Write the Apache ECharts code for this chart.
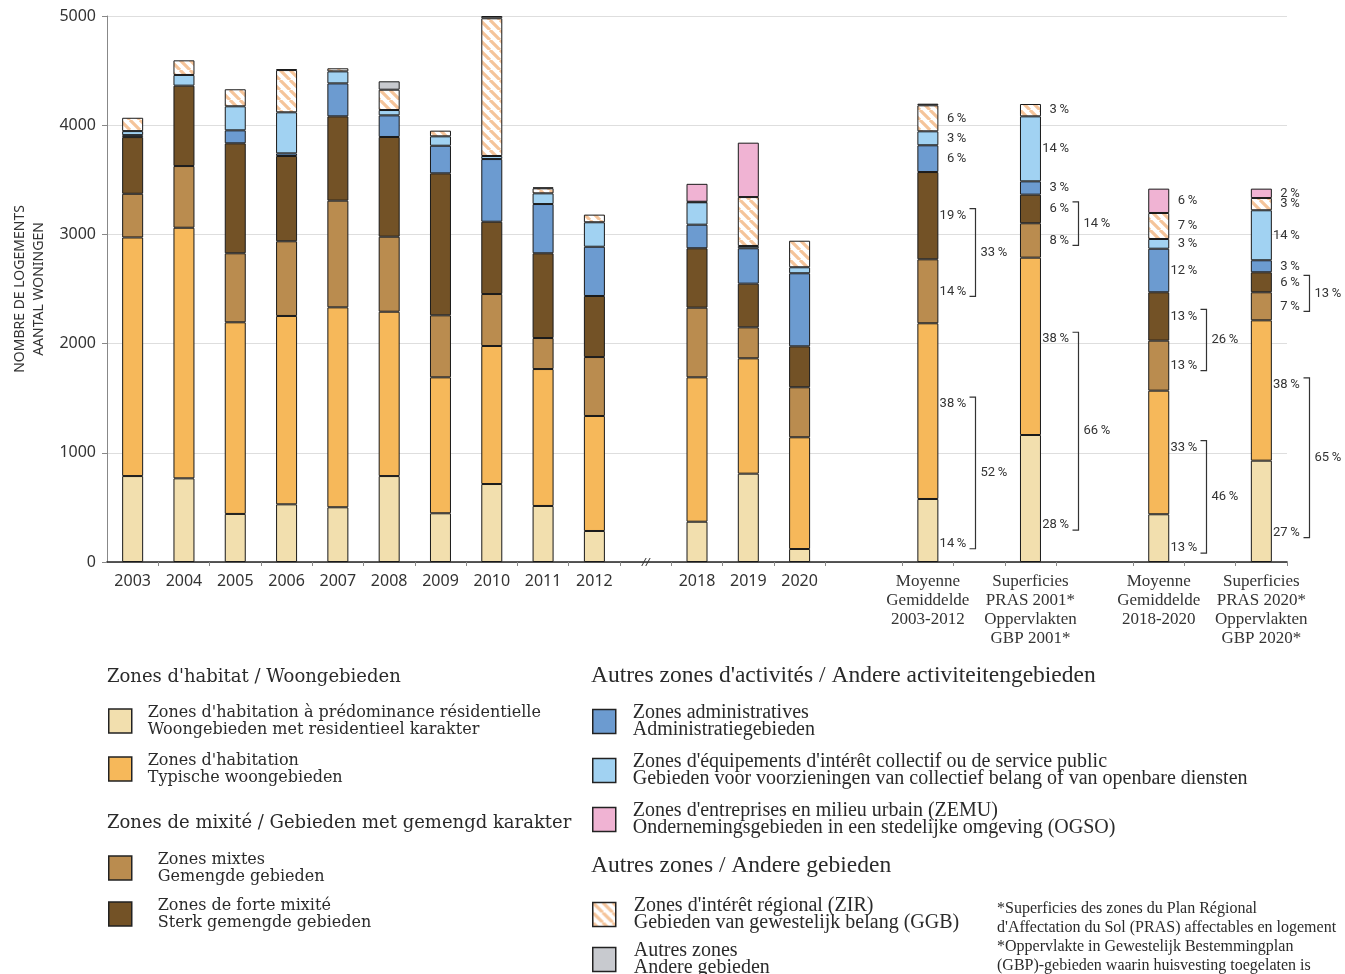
<!DOCTYPE html>
<html><head><meta charset="utf-8">
<script src="https://cdn.jsdelivr.net/npm/echarts@6/dist/echarts.min.js"></script>
<style>html,body{margin:0;padding:0;background:#fff}#chart{width:1345px;height:974px}</style>
</head><body><div id="chart"></div>
<script>
// ---------- DATA ----------
const categories = ['2003','2004','2005','2006','2007','2008','2009','2010','2011','2012','2018','2019','2020',
  'Moyenne\nGemiddelde\n2003-2012','Superficies\nPRAS 2001*\nOppervlakten\nGBP 2001*',
  'Moyenne\nGemiddelde\n2018-2020','Superficies\nPRAS 2020*\nOppervlakten\nGBP 2020*'];
const residentielle = [787, 766, 440, 528, 501, 787, 446, 714, 513, 284, 369, 809, 119, 577, 1163, 437, 928];
const habitation    = [2185, 2295, 1755, 1725, 1831, 1505, 1245, 1264, 1254, 1053, 1322, 1056, 1023, 1609, 1624, 1132, 1285];
const mixtes        = [400, 565, 632, 684, 977, 687, 568, 476, 284, 540, 638, 284, 458, 586, 315, 458, 257];
const forteMixite   = [519, 736, 1007, 781, 772, 913, 1300, 662, 776, 559, 544, 400, 375, 799, 262, 443, 183];
const administratives = [18, 0, 119, 24, 302, 198, 253, 574, 451, 451, 216, 324, 669, 245, 122, 399, 110];
const equipements   = [37, 98, 220, 376, 110, 49, 86, 28, 98, 224, 205, 21, 55, 128, 595, 89, 458];
const zir           = [122, 134, 156, 387, 28, 186, 52, 1261, 46, 70, 5, 448, 243, 238, 113, 238, 112];
const zemu          = [0, 0, 0, 0, 0, 0, 0, 0, 0, 0, 164, 498, 0, 0, 0, 223, 86];
const autres        = [0, 0, 0, 8, 0, 77, 0, 21, 8, 0, 0, 0, 0, 15, 0, 0, 0];
// percentages shown next to the four summary bars (order: résid, habitation, mixtes, forte, admin, équip, ZIR, ZEMU, autres)
const pctMoy0312  = [14, 38, 14, 19, 6, 3, 6, null, null];
const pctPras2001 = [28, 38, 8, 6, 3, 14, 3, null, null];
const pctMoy1820  = [13, 33, 13, 13, 12, 3, 7, 6, null];
const pctPras2020 = [27, 38, 7, 6, 3, 14, 3, 2, null];
const pctHabitatGroup = [52, 66, 46, 65];
const pctMixiteGroup  = [33, 14, 26, 13];
const yTicks = [0, 1000, 2000, 3000, 4000, 5000];

const seriesNames = ["Zones d'habitation à prédominance résidentielle", "Zones d'habitation", "Zones mixtes",
  "Zones de forte mixité", "Zones administratives", "Zones d'équipements d'intérêt collectif ou de service public",
  "Zones d'intérêt régional (ZIR)", "Zones d'entreprises en milieu urbain (ZEMU)", "Autres zones"];
const seriesNamesNL = ["Woongebieden met residentieel karakter", "Typische woongebieden", "Gemengde gebieden",
  "Sterk gemengde gebieden", "Administratiegebieden", "Gebieden voor voorzieningen van collectief belang of van openbare diensten",
  "Gebieden van gewestelijk belang (GGB)", "Ondernemingsgebieden in een stedelijke omgeving (OGSO)", "Andere gebieden"];
const seriesValues = [residentielle, habitation, mixtes, forteMixite, administratives, equipements, zir, zemu, autres];
const pctTables = [pctMoy0312, pctPras2001, pctMoy1820, pctPras2020];

// ---------- LAYOUT / STYLE ----------
const barSlots = [0,2,4,6,8,10,12,14,16,18,22,24,26,31,35,40,44]; // half-step slots along the axis
const breakSlot = 20;
const tickSlots = [1,3,5,7,9,11,13,15,17,19,21,23,25,27,30,32,34,36,39,41,43,45];
const NSLOT = 47; // slots -1..45
const firstSummary = 13;

function hatch() {
  const c = document.createElement('canvas'); c.width = c.height = 10;
  const g = c.getContext('2d');
  g.fillStyle = '#ffffff'; g.fillRect(0, 0, 10, 10);
  g.strokeStyle = '#F5C49A'; g.lineWidth = 3.2; g.beginPath();
  for (const o of [-10, 0, 10]) { g.moveTo(o, 0); g.lineTo(o + 10, 10); }
  g.stroke();
  return c;
}
const colors = ['#F2DFAE', '#F6B85A', '#BA8C4F', '#735226', '#6C9BD0', '#A1D2F2',
  {image: hatch(), repeat: 'repeat'}, '#F0B3D3', '#C8CACF'];

const SERIF = "'Liberation Serif', 'DejaVu Serif', serif";
const SLAB = "'DejaVu Serif', 'Liberation Serif', serif";
const SANS = "'Noto Sans', 'Open Sans', sans-serif";
const NARROW = "Roboto, 'Liberation Sans', sans-serif";

const axisCats = new Array(NSLOT).fill('');
const slotToBar = {};
barSlots.forEach((s, k) => { axisCats[s + 1] = categories[k]; slotToBar[s + 1] = k; });

function toSlots(vals) {
  const arr = new Array(NSLOT).fill(null);
  vals.forEach((v, k) => { arr[barSlots[k] + 1] = v ? v : null; });
  return arr;
}

const PCT = n => n + '\u2009%';

function pctFormatter(si) {
  return p => {
    const k = slotToBar[p.dataIndex];
    if (k === undefined || k < firstSummary) return '';
    const v = pctTables[k - firstSummary][si];
    return v == null ? '' : PCT(v);
  };
}

const barSeries = seriesValues.map((vals, si) => ({
  name: seriesNames[si],
  type: 'bar',
  stack: 'total',
  barWidth: 21,
  data: toSlots(vals),
  itemStyle: {color: colors[si], borderColor: '#1a1a1a', borderWidth: 1},
  emphasis: {disabled: true},
  label: {
    show: true,
    position: si === 0 ? ['100%', '71%'] : (si === 1 ? ['100%', '46%'] : 'right'),
    distance: 28,
    offset: si <= 1 ? [28, 0] : [0, 0],
    align: 'right', verticalAlign: 'middle',
    formatter: pctFormatter(si),
    fontFamily: NARROW, fontSize: 13, color: '#333'
  }
}));

// bracket anchors (data space) computed from the series values
const bracketData = [], bracketTexts = [];
for (let k = firstSummary; k < categories.length; k++) {
  const r = residentielle[k], h = habitation[k], m = mixtes[k], f = forteMixite[k];
  bracketData.push([barSlots[k] + 1, r + h * 0.54, r * 0.29]);
  bracketTexts.push(PCT(pctHabitatGroup[k - firstSummary]));
  bracketData.push([barSlots[k] + 1, r + h + m + f / 2, r + h + m / 2]);
  bracketTexts.push(PCT(pctMixiteGroup[k - firstSummary]));
}

const bracketSeries = {
  type: 'custom', name: 'brackets', silent: true, z: 5,
  encode: {x: 0, y: [1, 2]},
  data: bracketData,
  renderItem: (params, api) => {
    const cx = api.coord([api.value(0), 0])[0];
    const yTop = api.coord([api.value(0), api.value(1)])[1] - 7;
    const yBot = api.coord([api.value(0), api.value(2)])[1] + 5;
    const lx = Math.round(cx + 10.5 + 37) + 0.5;
    return {type: 'group', children: [
      {type: 'polyline', shape: {points: [[lx - 6, yTop], [lx, yTop], [lx, yBot], [lx - 6, yBot]]},
        style: {stroke: '#333', lineWidth: 1.2, fill: null}},
      {type: 'text', style: {text: bracketTexts[params.dataIndex], x: lx + 5, y: (yTop + yBot) / 2,
        verticalAlign: 'middle', align: 'left', fontFamily: NARROW, fontSize: 13, fill: '#333'}}
    ]};
  }
};

const breakSeries = {
  type: 'custom', name: 'break', silent: true, z: 10, clip: false,
  encode: {x: 0, y: 1},
  data: [[breakSlot + 1, 0]],
  renderItem: (params, api) => {
    const p = api.coord([api.value(0), api.value(1)]);
    return {type: 'text', style: {text: '//', x: p[0], y: p[1] + 1, align: 'center', verticalAlign: 'middle',
      fontFamily: SANS, fontSize: 11, fontStyle: 'italic', fill: '#333'}};
  }
};

function legendItem(si, left, top, pad, font, size) {
  return {
    data: [seriesNames[si]], left: left, top: top, orient: 'vertical', padding: 0,
    itemWidth: 23, itemHeight: 24, icon: 'rect', selectedMode: false,
    itemStyle: {borderColor: '#222', borderWidth: 1.5},
    formatter: n => n + '\n' + seriesNamesNL[si],
    textStyle: {fontFamily: font, fontSize: size, lineHeight: 17, color: '#2a2a2a', padding: [0, 0, 0, pad]}
  };
}

const headLeft = {fontFamily: SLAB, fontSize: 18, fontWeight: 'normal', color: '#2a2a2a'};
const headRight = {fontFamily: SERIF, fontSize: 23.5, fontWeight: 'normal', color: '#2a2a2a'};

const option = {
  animation: false,
  grid: {left: 107, right: 58, top: 16, bottom: 412, containLabel: false},
  xAxis: {
    type: 'category', data: axisCats, boundaryGap: false,
    axisLine: {lineStyle: {color: '#222', width: 1.6}},
    axisTick: {show: true, length: 4, lineStyle: {color: '#888'}, interval: (i) => tickSlots.includes(i - 1)},
    axisLabel: {
      interval: 0, margin: 10, color: '#333', fontFamily: SANS, fontSize: 16, lineHeight: 19,
      formatter: (v, i) => {
        if (!v) return '';
        if (v.indexOf('\n') < 0) return v;
        return v.split('\n').map(l => '{s|' + l + '}').join('\n');
      },
      rich: {s: {fontFamily: SERIF, fontSize: 17, lineHeight: 19, color: '#333'}}
    },
    splitLine: {show: false}
  },
  yAxis: {
    type: 'value', min: yTicks[0], max: yTicks[yTicks.length - 1], interval: yTicks[1] - yTicks[0],
    name: 'NOMBRE DE LOGEMENTS\nAANTAL WONINGEN', nameLocation: 'middle', nameRotate: 90, nameGap: 58,
    nameTextStyle: {fontFamily: SANS, fontSize: 14, lineHeight: 19, color: '#333', align: 'center'},
    axisLine: {show: true, lineStyle: {color: '#888'}},
    axisTick: {show: true, length: 5, lineStyle: {color: '#888'}},
    axisLabel: {margin: 11, color: '#333', fontFamily: SANS, fontSize: 16, formatter: v => String(v)},
    splitLine: {lineStyle: {color: '#dedede'}}
  },
  title: [
    {text: "Zones d'habitat / Woongebieden", left: 107, top: 668, padding: 0, textStyle: headLeft},
    {text: "Zones de mixité / Gebieden met gemengd karakter", left: 107, top: 814, padding: 0, textStyle: headLeft},
    {text: "Autres zones d'activités / Andere activiteitengebieden", left: 591, top: 664, padding: 0, textStyle: headRight},
    {text: "Autres zones / Andere gebieden", left: 591, top: 854, padding: 0, textStyle: headRight},
    {text: "*Superficies des zones du Plan Régional\nd'Affectation du Sol (PRAS) affectables en logement\n*Oppervlakte in Gewestelijk Bestemmingplan\n(GBP)-gebieden waarin huisvesting toegelaten is",
      left: 997, top: 899, padding: 0, textStyle: {fontFamily: SERIF, fontSize: 16, lineHeight: 19, fontWeight: 'normal', color: '#2a2a2a'}}
  ],
  legend: [
    legendItem(0, 108, 704, 11, SLAB, 16),
    legendItem(1, 108, 752, 11, SLAB, 16),
    legendItem(2, 108, 851, 21, SLAB, 16),
    legendItem(3, 108, 897, 21, SLAB, 16),
    legendItem(4, 592, 703, 12, SERIF, 20),
    legendItem(5, 592, 752, 12, SERIF, 20),
    legendItem(7, 592, 801, 12, SERIF, 20),
    legendItem(6, 592, 896, 13, SERIF, 20),
    legendItem(8, 592, 941, 13, SERIF, 20)
  ],
  series: [...barSeries, bracketSeries, breakSeries]
};

const chart = echarts.init(document.getElementById('chart'));
chart.setOption(option);
</script></body></html>
